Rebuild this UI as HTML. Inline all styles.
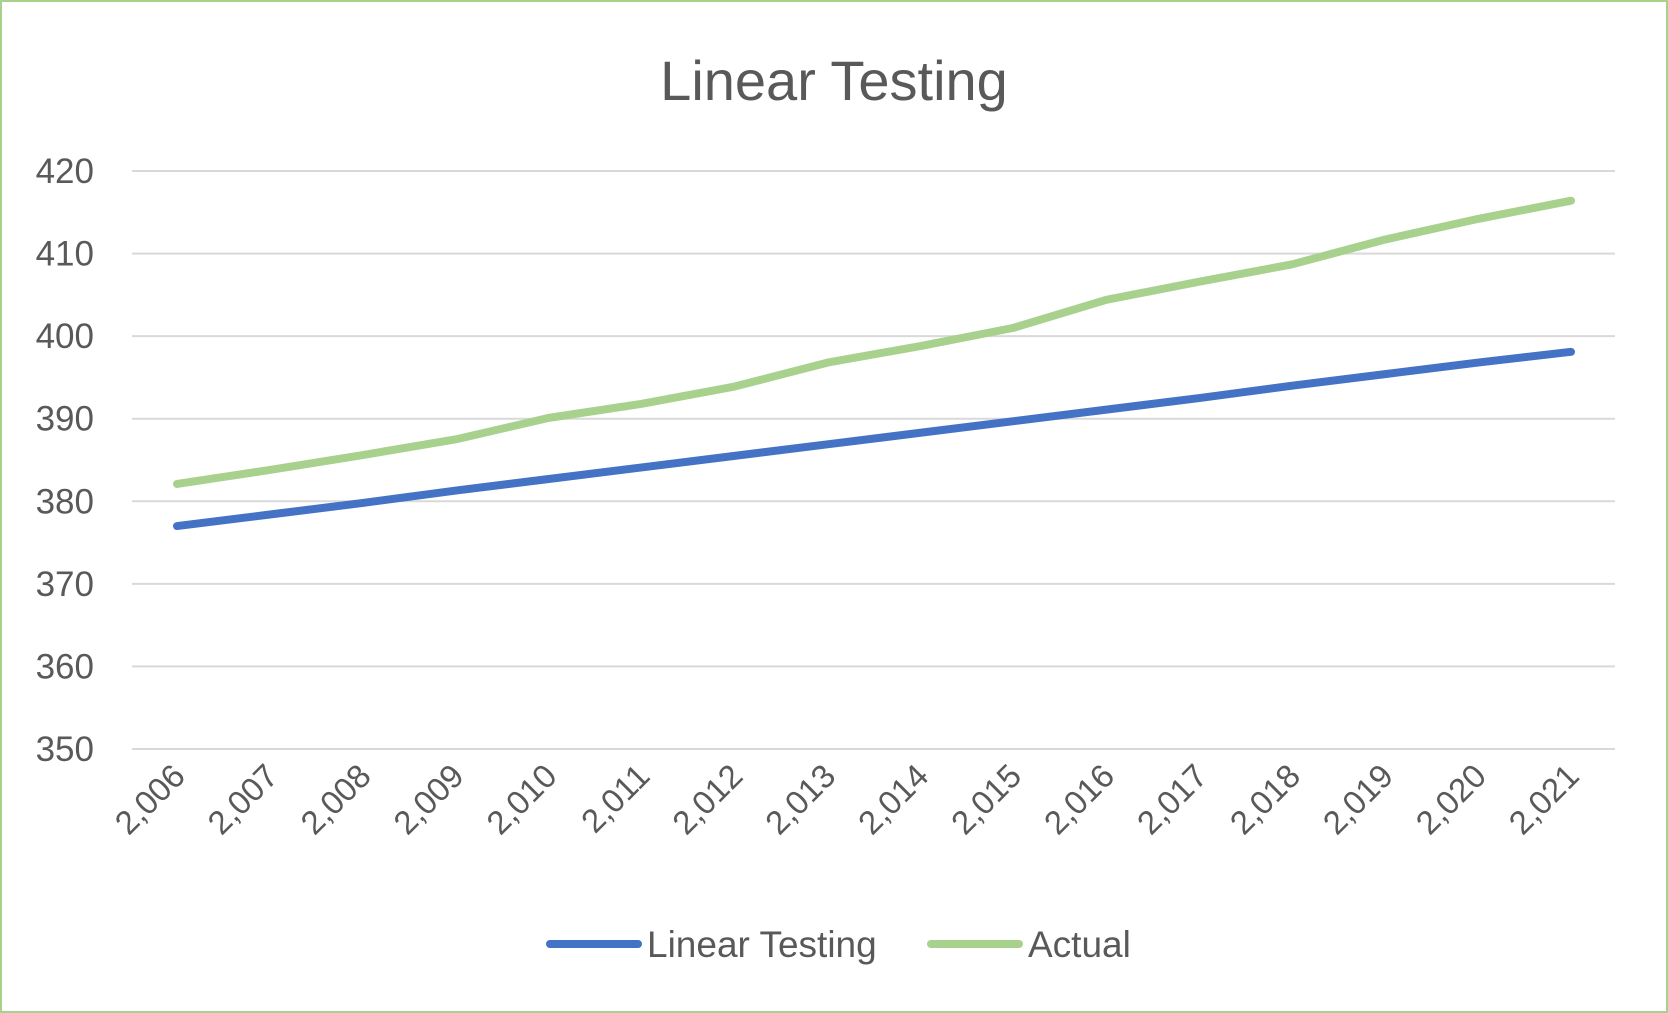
<!DOCTYPE html>
<html><head><meta charset="utf-8"><style>
html,body{margin:0;padding:0;background:#fff;}
svg{display:block;font-family:"Liberation Sans",sans-serif;}
</style></head><body>
<svg id="chart" width="1668" height="1013" viewBox="0 0 1668 1013">
<rect x="1" y="1" width="1666" height="1011" fill="#fff" stroke="#A9D18E" stroke-width="2"/>
<text x="834" y="100" text-anchor="middle" font-size="56" fill="#595959">Linear Testing</text>
<g id="grid"></g><g id="yt"></g><g id="xt"></g><g id="lines"></g>
<g>
<g>
<line x1="550" y1="944" x2="638" y2="944" stroke="#4472C4" stroke-width="8" stroke-linecap="round"/>
<text x="647" y="957" font-size="37" fill="#595959">Linear Testing</text></g>
<g>
<line x1="931" y1="944" x2="1019" y2="944" stroke="#A9D18E" stroke-width="8" stroke-linecap="round"/>
<text x="1028" y="957" font-size="37" fill="#595959">Actual</text></g>
</g>
</svg>
<script>
const categories=["2,006","2,007","2,008","2,009","2,010","2,011","2,012","2,013","2,014","2,015","2,016","2,017","2,018","2,019","2,020","2,021"];
const linearValues=[377,378.4,379.8,381.3,382.7,384.1,385.5,386.9,388.3,389.7,391.1,392.5,394,395.4,396.8,398.1];
const actualValues=[382.1,383.8,385.6,387.5,390.1,391.8,393.9,396.8,398.8,401.0,404.4,406.6,408.7,411.7,414.2,416.4];
const yTicks=[350,360,370,380,390,400,410,420];
const NS="http://www.w3.org/2000/svg";
const x0=132,x1=1615,yTop=171,yBot=749;
const xS=i=>177+i*(1571-177)/(categories.length-1);
const yS=v=>yBot-(v-350)/(420-350)*(yBot-yTop);
function mk(t,a,p){const e=document.createElementNS(NS,t);for(const k in a)e.setAttribute(k,a[k]);p.appendChild(e);return e;}
const g=document.getElementById('grid'),yt=document.getElementById('yt'),xt=document.getElementById('xt'),ln=document.getElementById('lines');
yTicks.forEach(v=>{
 const l=mk('line',{x1:x0,x2:x1,y1:yS(v),y2:yS(v),stroke:'#D9D9D9','stroke-width':2},g);
 
 
 const t=mk('text',{x:94,y:yS(v)+12,'text-anchor':'end','font-size':35,fill:'#595959'},yt);
 t.textContent=v;
 
 
});
categories.forEach((c,i)=>{
 const x=xS(i)+10,y=778;
 const t=mk('text',{x:x,y:y,'text-anchor':'end','font-size':33,fill:'#595959',transform:`rotate(-45 ${x} ${y})`},xt);
 t.textContent=c;
 
 
});
function series(vals,col,name){
 const p=mk('polyline',{points:vals.map((v,i)=>xS(i)+','+yS(v)).join(' '),fill:'none',stroke:col,'stroke-width':8,'stroke-linecap':'round','stroke-linejoin':'round'},ln);
 
 
}
series(actualValues,'#A9D18E','actual-line');
series(linearValues,'#4472C4','linear-testing-line');
</script>
</body></html>
